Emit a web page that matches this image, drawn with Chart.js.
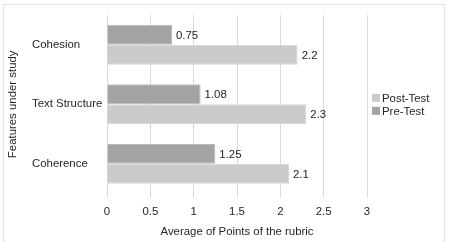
<!DOCTYPE html>
<html>
<head>
<meta charset="utf-8">
<script src="https://cdn.jsdelivr.net/npm/chart.js@4/dist/chart.umd.min.js"></script>
<style>
  html, body { margin: 0; padding: 0; background: #fff; }
  #frame { position: absolute; left: 3px; top: 4px; width: 442px; height: 245px; border: 1px solid #e2e2e2; box-sizing: border-box; }
  #wrap { position: absolute; left: 0; top: 0; width: 450px; height: 242px; }
</style>
</head>
<body>
<div id="frame"></div>
<div id="wrap"><canvas id="rubricChart"></canvas></div>
<script>
// values
const features = ['Cohesion', 'Text Structure', 'Coherence'];
const preTest = [0.75, 1.08, 1.25];
const postTest = [2.2, 2.3, 2.1];
const xTicks = [0, 0.5, 1, 1.5, 2, 2.5, 3];
const legendOrder = ['Post-Test', 'Pre-Test'];

const FONT = '"Liberation Sans", Arial, sans-serif';
const FS = 11.4;
const TXT = '#262626';

// value labels, y title and legend drawn on the canvas
const extras = {
    id: 'extras',
    afterDatasetsDraw(chart) {
        const ctx = chart.ctx;
        const area = chart.chartArea;
        ctx.save();
        ctx.font = FS + 'px ' + FONT;
        ctx.fillStyle = TXT;
        ctx.textBaseline = 'middle';
        chart.data.datasets.forEach((ds, i) => {
            chart.getDatasetMeta(i).data.forEach((bar, j) => {
                ctx.fillText(String(ds.data[j]), bar.x + 4, bar.y + 1);
            });
        });

        // legend
        const mid = (area.top + area.bottom) / 2;
        legendOrder.forEach((name, k) => {
            const ds = chart.data.datasets.find(d => d.label === name);
            const y = mid - 6.5 + k * 13;
            ctx.fillStyle = ds.backgroundColor;
            ctx.fillRect(area.right + 5, y - 4, 8, 8);
            ctx.fillStyle = TXT;
            ctx.textAlign = 'left';
            ctx.fillText(name, area.right + 15, y + 1);
        });

        // y axis title
        ctx.translate(13, mid);
        ctx.rotate(-Math.PI / 2);
        ctx.textAlign = 'center';
        ctx.fillText('Features under study', 0, 0);
        ctx.restore();
    }
};

const ctx1 = document.getElementById('rubricChart').getContext('2d');
new Chart(ctx1, {
    type: 'bar',
    data: {
        labels: features,
        datasets: [{
            label: 'Pre-Test',
            data: preTest,
            backgroundColor: '#a3a3a3',
            borderColor: '#b8b8b8',
            borderWidth: 1,
            categoryPercentage: 0.67,
            barPercentage: 1
        }, {
            label: 'Post-Test',
            data: postTest,
            backgroundColor: '#cbcbcb',
            borderColor: '#d6d6d6',
            borderWidth: 1,
            categoryPercentage: 0.67,
            barPercentage: 1
        }]
    },
    options: {
        indexAxis: 'y',
        responsive: true,
        maintainAspectRatio: false,
        animation: false,
        layout: { padding: { left: 32, top: 15, right: 83, bottom: 3 } },
        plugins: {
            legend: { display: false },
            tooltip: { enabled: false }
        },
        scales: {
            x: {
                min: 0,
                max: 3,
                afterBuildTicks: axis => { axis.ticks = xTicks.map(v => ({ value: v })); },
                grid: { color: '#d9d9d9', tickLength: 4 },
                border: { display: false },
                ticks: {
                    color: TXT,
                    padding: 7,
                    callback: v => String(v),
                    font: { family: FONT, size: FS }
                },
                title: {
                    display: true,
                    text: 'Average of Points of the rubric',
                    color: TXT,
                    padding: { top: 0, bottom: 0 },
                    font: { family: FONT, size: FS }
                }
            },
            y: {
                grid: { display: false, drawTicks: false },
                border: { display: false },
                afterFit: axis => { axis.width = 75; },
                ticks: {
                    crossAlign: 'far',
                    padding: 4,
                    color: TXT,
                    font: { family: FONT, size: FS }
                }
            }
        }
    },
    plugins: [extras]
});
</script>
</body>
</html>
